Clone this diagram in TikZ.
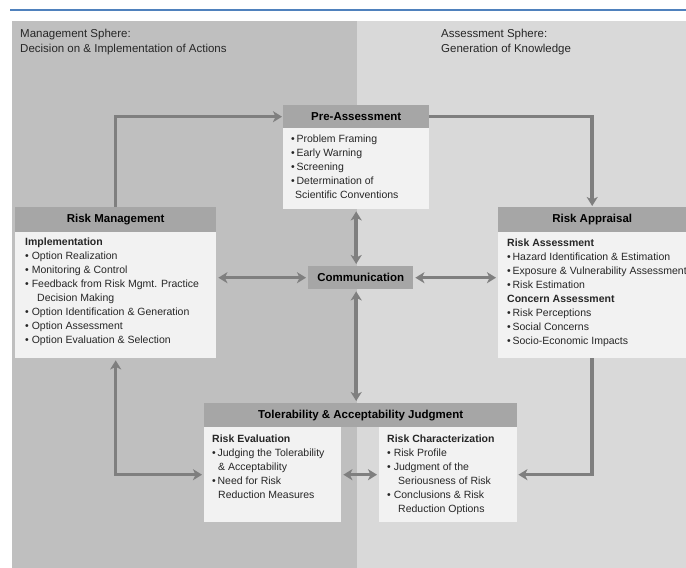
\documentclass[tikz,border=0pt]{standalone}
\usepackage{fontspec}
\setmainfont{Liberation Sans}
\usetikzlibrary{arrows.meta,positioning}
\definecolor{bgdark}{HTML}{BFBFBF}
\definecolor{bglight}{HTML}{D9D9D9}
\definecolor{hdrgray}{HTML}{A6A6A6}
\definecolor{boxfill}{HTML}{F2F2F2}
\definecolor{arrowgray}{HTML}{7F7F7F}
\definecolor{rulecol}{HTML}{4F81BD}
\tikzset{font=\fontsize{10.5}{14}\selectfont}
\tikzset{hdr/.style={fill=hdrgray, anchor=north west, inner sep=0pt, font=\fontsize{11.5}{14}\selectfont\bfseries}}
\tikzset{bodybox/.style={fill=boxfill, anchor=north west, inner sep=0pt}}
\tikzset{txt/.style={anchor=north west, inner sep=0pt, align=left, text=black!85}}
\tikzset{>={Stealth[length=9pt,width=11pt,inset=2.5pt]}}
\tikzset{flow/.style={draw=arrowgray, line width=3.5pt, ->, shorten >=1pt}}
\tikzset{twoway/.style={draw=arrowgray, line width=3.5pt, <->, shorten >=2pt, shorten <=2pt}}

\begin{document}
\begin{tikzpicture}[x=1pt,y=-1pt]
  \useasboundingbox (0,0) rectangle (686,568);
  \clip (0,0) rectangle (686,568);

  % the two spheres
  \fill[bgdark] (12,21) rectangle (357,568);
  \fill[bglight] (357,21) rectangle (686,568);
  \draw[rulecol, line width=2pt] (10,10) -- (686,10);

  \node[txt, font=\fontsize{11.5}{15}\selectfont] (mgmt) at (20,28.5)
    {Management Sphere:\\Decision on \& Implementation of Actions};
  \node[txt, font=\fontsize{11.5}{15}\selectfont] (assess) at (441,28.5)
    {Assessment Sphere:\\Generation of Knowledge};

  % pre-assessment
  \node[hdr, minimum width=146pt, minimum height=23pt] (pre) at (283,105) {Pre-Assessment};
  \node[bodybox, minimum width=146pt, minimum height=81pt] (prebody) at (283,128) {};
  \node[txt] (pretxt) at (291,135)
    {\textbullet\,Problem Framing\\
     \textbullet\,Early Warning\\
     \textbullet\,Screening\\
     \textbullet\,Determination of\\
     \hspace*{4pt}Scientific Conventions};

  % risk management
  \node[hdr, minimum width=201pt, minimum height=25pt] (rm) at (15,207) {Risk Management};
  \node[bodybox, minimum width=201pt, minimum height=126pt] (rmbody) at (15,232) {};
  \node[txt] (rmtxt) at (25,238)
    {{\bfseries Implementation}\\
     \textbullet{} Option Realization\\
     \textbullet{} Monitoring \& Control\\
     \textbullet{} Feedback from Risk Mgmt. Practice\\
     \hspace*{12pt}Decision Making\\
     \textbullet{} Option Identification \& Generation\\
     \textbullet{} Option Assessment\\
     \textbullet{} Option Evaluation \& Selection};

  % risk appraisal
  \node[hdr, minimum width=188pt, minimum height=25pt] (ra) at (498,207) {Risk Appraisal};
  \node[bodybox, minimum width=188pt, minimum height=126pt] (rabody) at (498,232) {};
  \node[txt] (ratxt) at (507,239)
    {{\bfseries Risk Assessment}\\
     \textbullet\,Hazard Identification \& Estimation\\
     \textbullet\,Exposure \& Vulnerability Assessment\\
     \textbullet\,Risk Estimation\\
     {\bfseries Concern Assessment}\\
     \textbullet\,Risk Perceptions\\
     \textbullet\,Social Concerns\\
     \textbullet\,Socio-Economic Impacts};

  \node[hdr, minimum width=105pt, minimum height=23pt] (comm) at (308,266) {Communication};

  % tolerability and acceptability
  \node[hdr, minimum width=313pt, minimum height=24pt] (tol) at (204,403) {Tolerability \& Acceptability Judgment};
  \node[bodybox, minimum width=137pt, minimum height=95pt] (teval) at (204,427) {};
  \node[bodybox, minimum width=138pt, minimum height=95pt] (tchar) at (379,427) {};
  \node[txt] (evaltxt) at (212,435)
    {{\bfseries Risk Evaluation}\\
     \textbullet\,Judging the Tolerability\\
     \hspace*{6pt}\& Acceptability\\
     \textbullet\,Need for Risk\\
     \hspace*{6pt}Reduction Measures};
  \node[txt] (chartxt) at (387,435)
    {{\bfseries Risk Characterization}\\
     \textbullet{} Risk Profile\\
     \textbullet{} Judgment of the\\
     \hspace*{11pt}Seriousness of Risk\\
     \textbullet{} Conclusions \& Risk\\
     \hspace*{11pt}Reduction Options};

  % the cycle
  \draw[flow] (rm.north) |- (pre.west);
  \draw[flow] (pre.east) -| (ra.north);
  \draw[flow] (rabody.south) |- (tchar.east);
  \draw[twoway] (rmbody.south) |- (teval.west);
  \draw[twoway] (teval.east) -- (tchar.west);

  % communication
  \draw[twoway] (comm.west) -- (comm.west -| rmbody.east);
  \draw[twoway] (comm.east) -- (comm.east -| rabody.west);
  \draw[twoway] (prebody.south) -- (prebody.south |- comm.north);
  \draw[twoway] (prebody.south |- comm.south) -- (prebody.south |- tol.north);
\end{tikzpicture}
\end{document}
